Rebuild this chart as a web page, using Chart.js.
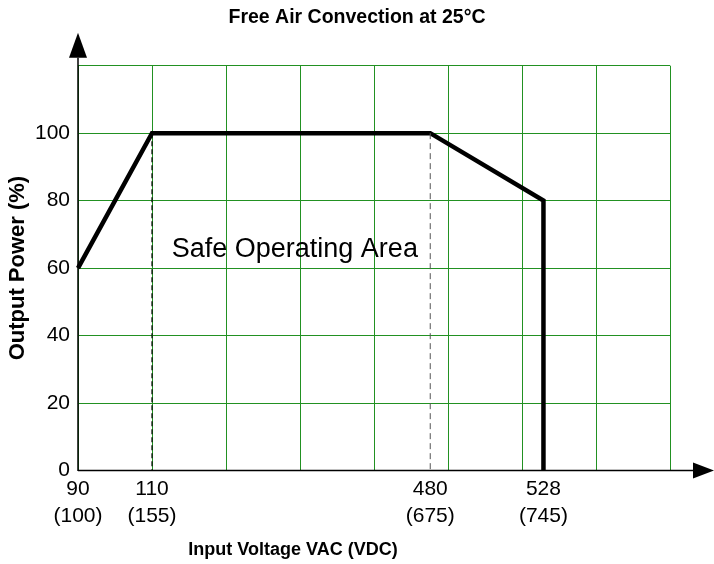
<!DOCTYPE html>
<html>
<head>
<meta charset="utf-8">
<script src="https://cdn.jsdelivr.net/npm/chart.js@4/dist/chart.umd.min.js"></script>
<style>
  html, body { margin: 0; padding: 0; background: #ffffff; }
  #wrap { width: 714px; height: 564px; }
</style>
</head>
<body>
<div id="wrap"><canvas id="c" width="714" height="564"></canvas></div>
<script>
// ---- data ----
const acLabels = ['90', '110', '480', '528'];
const dcLabels = ['(100)', '(155)', '(675)', '(745)'];
const tickPositions = [0, 1, 4.76, 6.29];      // position of each voltage on the grid
const curveX = [0, 1, 4.76, 6.29, 6.29];
const curvePower = [60, 100, 100, 80, 0];
const guide110X = [1, 1];
const guide110Y = [100, 0];
const guide480X = [4.76, 4.76];
const guide480Y = [100, 0];
const yMax = 120;
const xMax = 8;
const labelText = 'Safe Operating Area';
const labelAt = { x: 2.93, y: 65.5 };
const xTitleText = 'Input Voltage VAC (VDC)';

const FONT = "'Liberation Sans', Arial, sans-serif";
const GREEN = '#229122';

const zip = (xs, ys) => xs.map((x, i) => ({ x, y: ys[i] }));

const decorations = {
  id: 'decorations',
  beforeDatasetsDraw(chart) {
    const { ctx, chartArea } = chart;
    const { left, right, top, bottom } = chartArea;
    ctx.save();
    ctx.strokeStyle = '#000';
    ctx.fillStyle = '#000';
    ctx.lineWidth = 1.5;
    // y axis line
    ctx.beginPath();
    ctx.moveTo(left, bottom + 0.5);
    ctx.lineTo(left, top - 8);
    ctx.stroke();
    // x axis line
    ctx.beginPath();
    ctx.moveTo(left, bottom);
    ctx.lineTo(right + 23, bottom);
    ctx.stroke();
    // y arrow
    ctx.beginPath();
    ctx.moveTo(left - 9, top - 8);
    ctx.lineTo(left + 9, top - 8);
    ctx.lineTo(left, top - 33);
    ctx.closePath();
    ctx.fill();
    // x arrow
    ctx.beginPath();
    ctx.moveTo(right + 23, bottom - 8);
    ctx.lineTo(right + 23, bottom + 8);
    ctx.lineTo(right + 44, bottom);
    ctx.closePath();
    ctx.fill();
    // area label
    const xs = chart.scales.x, ys = chart.scales.y;
    ctx.font = '27px ' + FONT;
    ctx.textAlign = 'center';
    ctx.textBaseline = 'middle';
    ctx.fillText(labelText, xs.getPixelForValue(labelAt.x), ys.getPixelForValue(labelAt.y));
    // x axis title
    ctx.font = 'bold 18px ' + FONT;
    ctx.fillText(xTitleText, left + 215, bottom + 79.5);
    ctx.restore();
  }
};

new Chart(document.getElementById('c'), {
  type: 'line',
  data: {
    datasets: [
      {
        data: zip(guide110X, guide110Y),
        borderColor: '#000',
        borderWidth: 1.2,
        borderDash: [5, 3],
        pointRadius: 0,
        xAxisID: 'x', yAxisID: 'y'
      },
      {
        data: zip(guide480X, guide480Y),
        borderColor: '#555',
        borderWidth: 1,
        borderDash: [6, 4],
        pointRadius: 0,
        xAxisID: 'x', yAxisID: 'y'
      },
      {
        data: zip(curveX, curvePower),
        borderColor: '#000',
        borderWidth: 4.5,
        borderJoinStyle: 'miter',
        tension: 0,
        pointRadius: 0,
        clip: false,
        xAxisID: 'x', yAxisID: 'y'
      }
    ]
  },
  options: {
    responsive: false,
    animation: false,
    devicePixelRatio: 1,
    layout: { padding: 0 },
    plugins: {
      legend: { display: false },
      tooltip: { enabled: false },
      title: {
        display: true,
        text: 'Free Air Convection at 25°C',
        color: '#000',
        font: { family: FONT, size: 19.5, weight: 'bold' },
        padding: { top: 6, bottom: 36.3 }
      }
    },
    scales: {
      x: {
        type: 'linear',
        position: 'bottom',
        min: 0,
        max: xMax,
        grid: { display: false, tickLength: 0 },
        border: { display: false },
        afterBuildTicks(scale) {
          scale.ticks = tickPositions.map(v => ({ value: v }));
        },
        afterFit(scale) { scale.height = 93.5; },
        ticks: {
          autoSkip: false,
          maxRotation: 0,
          color: '#000',
          padding: 5,
          font: { family: FONT, size: 21, lineHeight: 1.29 },
          callback: (v, i) => [acLabels[i], dcLabels[i]]
        }
      },
      xg: {
        type: 'linear',
        position: 'bottom',
        min: 0,
        max: xMax,
        grid: { color: GREEN, lineWidth: 1, drawTicks: false },
        border: { display: false },
        ticks: { display: false, stepSize: 1 },
        afterFit(scale) { scale.height = 0; }
      },
      yr: {
        type: 'linear',
        position: 'right',
        min: 0,
        max: yMax,
        grid: { display: false, drawTicks: false },
        border: { display: false },
        ticks: { display: false },
        afterFit(scale) { scale.width = 44; }
      },
      y: {
        type: 'linear',
        position: 'left',
        min: 0,
        max: yMax,
        grid: { color: GREEN, lineWidth: 1, drawTicks: false },
        border: { display: false },
        afterFit(scale) { scale.width = 78; },
        ticks: {
          stepSize: 20,
          color: '#000',
          padding: 8,
          font: { family: FONT, size: 21 },
          callback: v => (v === yMax ? '' : v)
        },
        title: {
          display: true,
          text: 'Output Power (%)',
          color: '#000',
          font: { family: FONT, size: 22, weight: 'bold' },
          padding: { top: 5, bottom: 0 }
        }
      }
    }
  },
  plugins: [decorations]
});
</script>
</body>
</html>
